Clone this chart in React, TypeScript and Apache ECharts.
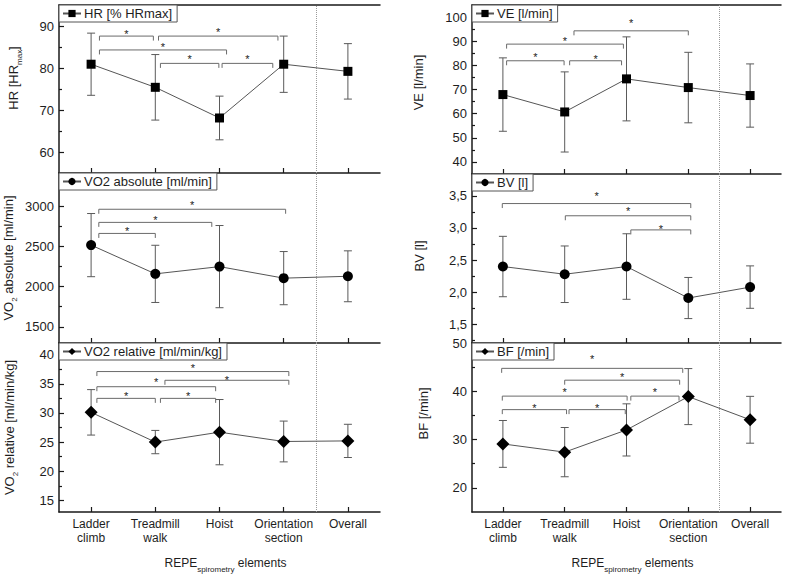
import React, { useEffect, useRef } from 'react';
import * as echarts from 'echarts';

// ---------- data ----------
const categories = ['Ladder\nclimb', 'Treadmill\nwalk', 'Hoist', 'Orientation\nsection', 'Overall'];
const catPositions = [1, 2, 3, 4, 5];
const dividerPosition = 4.5;

const hrMean = [80.9, 75.4, 68.1, 80.9, 79.2];
const hrSd = [7.4, 7.8, 5.2, 6.7, 6.6];
const vo2AbsMean = [2515, 2158, 2248, 2105, 2128];
const vo2AbsSd = [392, 355, 510, 330, 316];
const vo2RelMean = [30.1, 25.0, 26.7, 25.1, 25.2];
const vo2RelSd = [3.9, 2.0, 5.6, 3.5, 2.85];
const veMean = [67.9, 60.7, 74.4, 70.8, 67.5];
const veSd = [15.2, 16.6, 17.4, 14.6, 13.1];
const bvMean = [2.4, 2.28, 2.4, 1.91, 2.08];
const bvSd = [0.47, 0.44, 0.51, 0.32, 0.33];
const bfMean = [29.1, 27.4, 32.0, 38.9, 34.1];
const bfSd = [4.85, 5.1, 5.4, 5.8, 4.85];

// significance brackets: [from, to, bracket level, asterisk level]
const hrBrackets = [
  [1.13, 1.97, 87.6, 88.8],
  [2.05, 3.91, 87.6, 89.1],
  [1.13, 3.11, 84.3, 85.7],
  [2.08, 2.99, 81.1, 82.7],
  [3.04, 3.83, 81.1, 82.7],
];
const vo2AbsBrackets = [
  [1.12, 4.03, 2960, 3046],
  [1.12, 2.88, 2797, 2854],
  [1.12, 2.0, 2660, 2723],
];
const vo2RelBrackets = [
  [1.09, 4.08, 37.1, 38.2],
  [2.15, 4.08, 35.6, 36.1],
  [1.09, 2.94, 34.5, 35.8],
  [1.09, 2.0, 32.5, 33.4],
  [2.08, 2.94, 32.5, 33.4],
];
const veBrackets = [
  [2.15, 4.0, 94.3, 98.6],
  [1.06, 2.95, 88.8, 91.0],
  [1.06, 1.99, 81.9, 84.7],
  [2.08, 2.92, 81.9, 83.7],
];
const bvBrackets = [
  [0.99, 4.04, 3.38, 3.54],
  [2.01, 4.04, 3.19, 3.3],
  [3.07, 4.04, 2.97, 3.03],
];
const bfBrackets = [
  [0.98, 3.91, 44.75, 47.15],
  [2.0, 3.86, 42.3, 43.4],
  [0.99, 3.01, 39.0, 40.3],
  [3.07, 3.85, 39.0, 40.3],
  [0.99, 2.03, 36.2, 37.0],
  [2.07, 2.98, 36.2, 37.0],
];

// axis ranges and ticks
const hrRange = [55, 95];
const hrMajor = [60, 70, 80, 90];
const hrMinor = [65, 75, 85];
const vo2AbsRange = [1300, 3410];
const vo2AbsMajor = [1500, 2000, 2500, 3000];
const vo2AbsMinor = [1750, 2250, 2750, 3250];
const vo2RelRange = [13, 42];
const vo2RelMajor = [15, 20, 25, 30, 35, 40];
const vo2RelMinor = [17.5, 22.5, 27.5, 32.5, 37.5];
const veRange = [35, 105];
const veMajor = [40, 50, 60, 70, 80, 90, 100];
const veMinor = [45, 55, 65, 75, 85, 95];
const bvRange = [1.21, 3.84];
const bvMajor = [1.5, 2.0, 2.5, 3.0, 3.5];
const bvMinor = [1.25, 1.75, 2.25, 2.75, 3.25, 3.75];
const bfRange = [15, 50];
const bfMajor = [20, 30, 40, 50];
const bfMinor = [25, 35, 45];

const FONT = '"Liberation Sans", Arial, Helvetica, sans-serif';
const TEXT = '#1e1e1e';
const AXIS = '#1a1a1a';
const STAR = '#222222';

const intFmt = (v: number) => String(v);
const commaFmt = (v: number) => v.toFixed(1).replace('.', ',');

export default function App() {
  const ref = useRef<HTMLDivElement>(null);

  useEffect(() => {
    if (!ref.current) return;
    const chart = echarts.init(ref.current, null, { renderer: 'svg' });

    const panels = [
      { legend: 'HR [% HRmax]', yName: 'HR [HR{sub|max}]', mean: hrMean, sd: hrSd, brackets: hrBrackets, symbol: 'rect', symbolSize: 9, range: hrRange, major: hrMajor, minor: hrMinor, fmt: intFmt, left: 59, top: 5, width: 321, height: 168, nameGap: 36, namePad: 22, showX: false, topLine: true },
      { legend: 'VO2 absolute [ml/min]', yName: 'VO{sub|2} absolute [ml/min]', mean: vo2AbsMean, sd: vo2AbsSd, brackets: vo2AbsBrackets, symbol: 'circle', symbolSize: 10, range: vo2AbsRange, major: vo2AbsMajor, minor: vo2AbsMinor, fmt: intFmt, left: 59, top: 173, width: 321, height: 170, nameGap: 41, namePad: 0, showX: false, topLine: false },
      { legend: 'VO2 relative [ml/min/kg]', yName: 'VO{sub|2} relative [ml/min/kg]', mean: vo2RelMean, sd: vo2RelSd, brackets: vo2RelBrackets, symbol: 'diamond', symbolSize: 13, range: vo2RelRange, major: vo2RelMajor, minor: vo2RelMinor, fmt: intFmt, left: 59, top: 343, width: 321, height: 169, nameGap: 40, namePad: 0, showX: true, topLine: false },
      { legend: 'VE [l/min]', yName: 'VE [l/min]', mean: veMean, sd: veSd, brackets: veBrackets, symbol: 'rect', symbolSize: 9, range: veRange, major: veMajor, minor: veMinor, fmt: intFmt, left: 472, top: 5, width: 309, height: 169, nameGap: 44, namePad: 14, showX: false, topLine: true },
      { legend: 'BV [l]', yName: 'BV [l]', mean: bvMean, sd: bvSd, brackets: bvBrackets, symbol: 'circle', symbolSize: 10, range: bvRange, major: bvMajor, minor: bvMinor, fmt: commaFmt, left: 472, top: 174, width: 309, height: 169, nameGap: 43, namePad: 5, showX: false, topLine: false },
      { legend: 'BF [/min]', yName: 'BF [/min]', mean: bfMean, sd: bfSd, brackets: bfBrackets, symbol: 'diamond', symbolSize: 13, range: bfRange, major: bfMajor, minor: bfMinor, fmt: intFmt, left: 472, top: 343, width: 309, height: 169, nameGap: 39, namePad: 28, showX: true, topLine: false },
    ];

    const nameStyle = (pad: number[]) => ({
      fontSize: 13,
      color: TEXT,
      fontFamily: FONT,
      lineHeight: 20,
      padding: pad,
      rich: {
        sub: { fontSize: 8, lineHeight: 10, verticalAlign: 'bottom', color: TEXT, fontFamily: FONT },
      },
    });

    const grids = panels.map((p) => ({
      left: p.left, top: p.top, width: p.width, height: p.height,
      containLabel: false, outerBoundsMode: 'none',
    }));

    const mainX = panels.map((p, i) => ({
      type: 'value', gridIndex: i, min: 0.5, max: 5.5, position: 'bottom',
      axisLine: { show: true, onZero: false, lineStyle: { color: AXIS, width: 1.5 } },
      axisTick: { show: true, inside: true, length: 5, customValues: catPositions, lineStyle: { color: AXIS, width: 1.2 } },
      axisLabel: {
        show: p.showX, customValues: catPositions,
        formatter: (v: number) => categories[Math.round(v) - 1] ?? '',
        fontSize: 12, lineHeight: 14, color: TEXT, margin: 5, fontFamily: FONT,
      },
      splitLine: { show: false },
      name: p.showX ? 'REPE{sub|spirometry} elements' : '',
      nameLocation: 'middle', nameGap: 41,
      nameTextStyle: { ...nameStyle([0, 0, 0, 12]), fontSize: 12 },
    }));
    const topX = panels
      .map((p, i) => ({ p, i }))
      .filter(({ p }) => p.topLine)
      .map(({ i }) => ({
        type: 'value', gridIndex: i, min: 0.5, max: 5.5, position: 'top',
        axisLine: { show: true, onZero: false, lineStyle: { color: AXIS, width: 1.5 } },
        axisTick: { show: false }, axisLabel: { show: false }, splitLine: { show: false },
      }));

    const mainY = panels.map((p, i) => ({
      type: 'value', gridIndex: i, min: p.range[0], max: p.range[1], position: 'left',
      axisLine: { show: true, onZero: false, lineStyle: { color: AXIS, width: 1.5 } },
      axisTick: { show: true, inside: true, length: 5, customValues: p.major, lineStyle: { color: AXIS, width: 1.2 } },
      axisLabel: { customValues: p.major, formatter: p.fmt, fontSize: 13, color: TEXT, margin: 5, fontFamily: FONT },
      splitLine: { show: false },
      name: p.yName, nameLocation: 'middle', nameGap: p.nameGap, nameRotate: 90,
      nameTextStyle: nameStyle([0, 0, 0, p.namePad]),
    }));
    const minorY = panels.map((p, i) => ({
      type: 'value', gridIndex: i, min: p.range[0], max: p.range[1], position: 'left',
      axisLine: { show: false },
      axisTick: { show: true, inside: true, length: 3, customValues: p.minor, lineStyle: { color: AXIS, width: 1.2 } },
      axisLabel: { show: false }, splitLine: { show: false },
    }));

    const legends = panels.map((p) => ({
      data: [p.legend], left: p.left, top: p.top, orient: 'horizontal',
      padding: [2, 5, 2, 3], itemWidth: 18, itemHeight: 9, itemGap: 0,
      borderColor: '#555', borderWidth: 1, borderRadius: 0, backgroundColor: '#fff',
      selectedMode: false,
      textStyle: { fontSize: 13, color: TEXT, fontFamily: FONT, padding: [0, 0, 0, -2] },
    }));

    const series: any[] = [];
    panels.forEach((p, i) => {
      series.push({
        type: 'line', name: p.legend, xAxisIndex: i, yAxisIndex: i,
        data: p.mean.map((m, k) => [catPositions[k], m]),
        symbol: p.symbol, symbolSize: p.symbolSize,
        itemStyle: { color: '#000' },
        lineStyle: { color: '#555', width: 1 },
        z: 5,
        markLine: {
          silent: true, symbol: ['none', 'none'], label: { show: false },
          lineStyle: { color: '#9a9a9a', type: 'dotted', width: 1 },
          data: [{ xAxis: dividerPosition }],
          animation: false,
        },
      });
      series.push({
        type: 'custom', xAxisIndex: i, yAxisIndex: i, z: 3,
        itemStyle: { color: '#5a5a5a' },
        data: p.mean.map((m, k) => [catPositions[k], m, p.sd[k]]),
        renderItem: (_params: any, api: any) => {
          const x = api.value(0), m = api.value(1), s = api.value(2);
          const a = api.coord([x, m + s]);
          const b = api.coord([x, m - s]);
          const st = { stroke: '#5a5a5a', lineWidth: 1 };
          const cw = 4;
          return {
            type: 'group',
            children: [
              { type: 'line', shape: { x1: a[0], y1: a[1], x2: b[0], y2: b[1] }, style: st },
              { type: 'line', shape: { x1: a[0] - cw, y1: a[1], x2: a[0] + cw, y2: a[1] }, style: st },
              { type: 'line', shape: { x1: b[0] - cw, y1: b[1], x2: b[0] + cw, y2: b[1] }, style: st },
            ],
          };
        },
      });
      series.push({
        type: 'custom', xAxisIndex: i, yAxisIndex: i, z: 4,
        itemStyle: { color: STAR },
        data: p.brackets,
        encode: { x: [0, 1], y: [2, 3] },
        renderItem: (_params: any, api: any) => {
          const x1 = api.value(0), x2 = api.value(1), y = api.value(2), sy = api.value(3);
          const p1 = api.coord([x1, y]);
          const p2 = api.coord([x2, y]);
          const ps = api.coord([(x1 + x2) / 2, sy]);
          const drop = 4.5;
          return {
            type: 'group',
            children: [
              {
                type: 'polyline',
                shape: { points: [[p1[0], p1[1] + drop], [p1[0], p1[1]], [p2[0], p2[1]], [p2[0], p2[1] + drop]] },
                style: { stroke: '#6a6a6a', lineWidth: 1, fill: null },
              },
              {
                type: 'text', x: ps[0], y: ps[1] + 2.5,
                style: { text: '*', fill: STAR, textFill: STAR, stroke: null, fontSize: 11, fontFamily: FONT, align: 'center', verticalAlign: 'middle' },
              },
            ],
          };
        },
      });
    });

    chart.setOption({
      animation: false,
      backgroundColor: '#fff',
      textStyle: { fontFamily: FONT },
      grid: grids,
      xAxis: [...mainX, ...topX],
      yAxis: [...mainY, ...minorY],
      legend: legends,
      series,
    });

    return () => chart.dispose();
  }, []);

  return (
    <div
      ref={ref}
      style={{ position: 'absolute', left: 0, top: 0, width: 787, height: 578, background: '#fff' }}
    />
  );
}
